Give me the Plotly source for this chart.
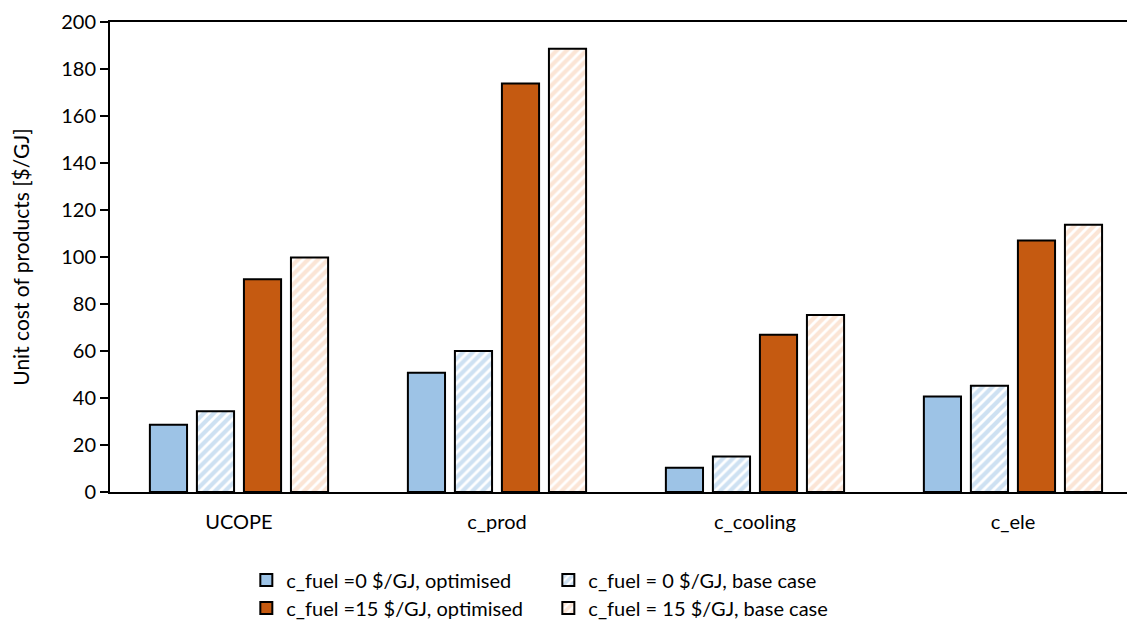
import plotly.graph_objects as go

categories = ["UCOPE", "c_prod", "c_cooling", "c_ele"]
opt_0 = [28.6, 50.7, 10.3, 40.6]
base_0 = [34.4, 60.0, 15.1, 45.2]
opt_15 = [90.5, 173.8, 66.9, 107.0]
base_15 = [99.8, 188.6, 75.3, 113.7]

names = ["c_fuel =0 $/GJ, optimised", "c_fuel = 0 $/GJ, base case",
         "c_fuel =15 $/GJ, optimised", "c_fuel = 15 $/GJ, base case"]

FONT = "Lato, Open Sans, sans-serif"
W, H = 1127, 618

fig = go.Figure()
fig.add_bar(x=categories, y=opt_0, name=names[0], legend="legend",
            marker=dict(color="#9DC3E6", line=dict(color="black", width=2)))
fig.add_bar(x=categories, y=base_0, name=names[1], legend="legend",
            marker=dict(color="white", line=dict(color="black", width=2),
                        pattern=dict(shape="/", fgcolor="#9DC3E6", bgcolor="white",
                                     size=7, solidity=0.6)))
fig.add_bar(x=categories, y=opt_15, name=names[2], legend="legend2",
            marker=dict(color="#C55A11", line=dict(color="black", width=2)))
fig.add_bar(x=categories, y=base_15, name=names[3], legend="legend2",
            marker=dict(color="white", line=dict(color="black", width=2),
                        pattern=dict(shape="/", fgcolor="#F8CBAD", bgcolor="white",
                                     size=7, solidity=0.6)))

leg_common = dict(orientation="h", xanchor="left", yanchor="middle", yref="container",
                  entrywidth=257, entrywidthmode="pixels",
                  font=dict(family=FONT, size=20, color="black"),
                  bgcolor="rgba(0,0,0,0)", itemwidth=30, tracegroupgap=0)

fig.update_layout(
    width=W, height=H,
    margin=dict(l=102, r=0, t=14, b=134),
    paper_bgcolor="white", plot_bgcolor="white",
    barmode="group", bargap=0.271, bargroupgap=0.21,
    font=dict(family=FONT, size=20, color="black"),
    legend=dict(x=0.133, y=1 - 572 / H, **leg_common),
    legend2=dict(x=0.133, y=1 - 600 / H, **leg_common),
    xaxis=dict(showline=True, linecolor="black", linewidth=2, mirror=True,
               automargin=False,
               range=[-0.5, 3.473], ticks="", ticklabelstandoff=11,
               tickfont=dict(family=FONT, size=20, color="black")),
    yaxis=dict(range=[0, 200], dtick=20, showline=True, linecolor="black", linewidth=2,
               automargin=False, ticklabeloverflow="allow",
               ticks="outside", ticklen=8, tickwidth=1.5, tickcolor="black",
               showgrid=False, zeroline=False, mirror=False,
               title=dict(text="Unit cost of products [$/GJ]", standoff=28,
                          font=dict(family=FONT, size=21, color="black")),
               tickfont=dict(family=FONT, size=20, color="black")),
)

fig.write_html("out.html")
